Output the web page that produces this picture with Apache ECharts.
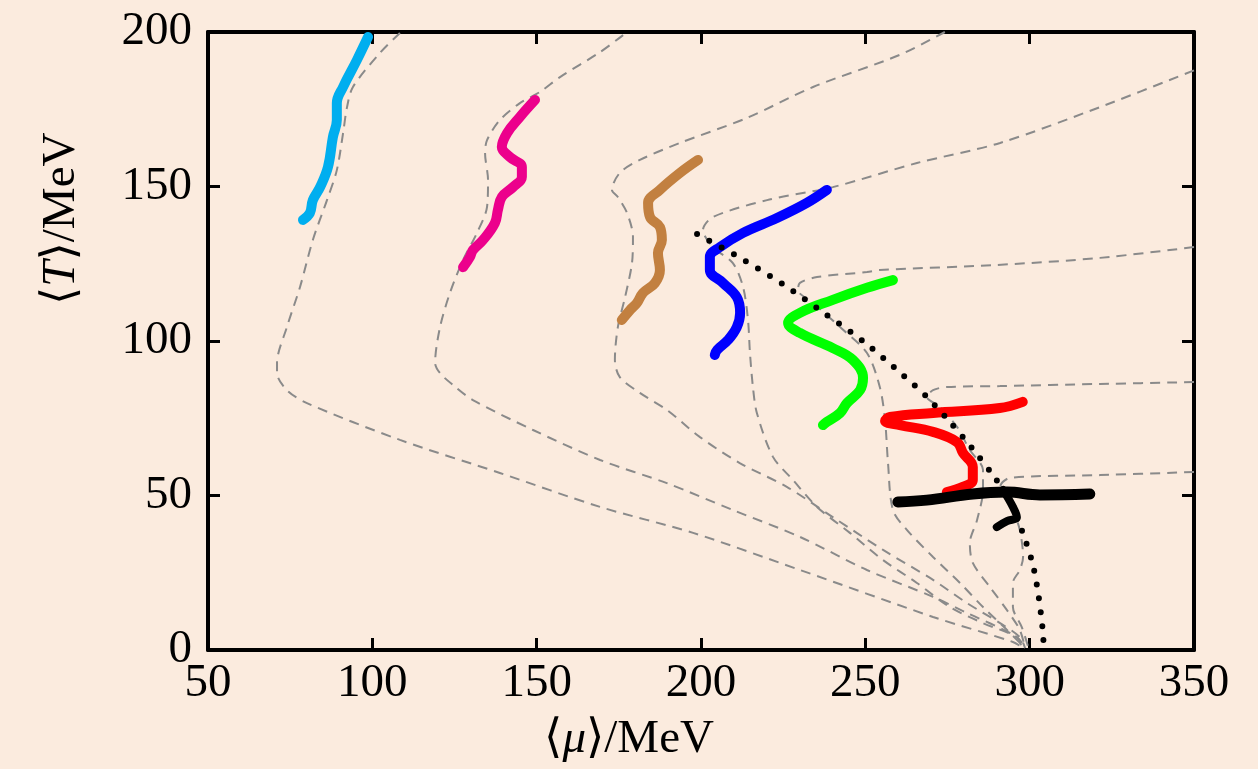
<!DOCTYPE html>
<html>
<head>
<meta charset="utf-8">
<script src="https://cdn.jsdelivr.net/npm/echarts@6/dist/echarts.min.js"></script>
<style>
  html, body { margin: 0; padding: 0; background: #fbebde; }
  #chart { width: 1258px; height: 769px; }
</style>
</head>
<body>
<div id="chart"></div>
<script>
// ticks
var xTicks = [50, 100, 150, 200, 250, 300, 350];
var yTicks = [0, 50, 100, 150, 200];

// gray dashed trajectories  [mu, T]
var dash1 = [[108.4,199.7],[102.3,193.2],[94.1,182.2],[92.3,175.7],[91.1,167.3],[89.2,155.3],[86.2,145.6],[81.9,132.7],[78.0,117.5],[74.0,104.5],[71.0,92.9],[71.0,89.6],[74.0,84.1],[80.1,79.9],[108.4,68.0],[138.8,57.3],[169.3,46.3],[197.6,37.9],[230.1,25.9],[270.6,10.7],[294.9,2.6],[298.2,0.5]];
var dash2 = [[176.3,199.0],[169.3,193.5],[157.1,185.4],[151.0,180.6],[144.9,177.0],[138.8,171.5],[134.9,165.0],[134.3,160.8],[135.2,152.1],[134.9,143.4],[131.8,134.9],[127.6,126.2],[123.6,115.5],[120.6,104.5],[119.1,92.9],[120.6,89.6],[124.5,85.8],[130.6,80.9],[148.9,71.2],[169.3,61.5],[189.6,54.0],[209.7,45.3],[230.1,36.6],[250.5,25.9],[270.6,17.2],[280.9,12.0],[296.1,4.2],[297.6,0.6]];
var dash3 = [[274.2,200],[260.5,192.6],[234.1,182.2],[214.0,172.2],[193.6,164.1],[181.4,158.6],[175.3,154.4],[172.9,148.9],[174.7,146.6],[177.5,141.4],[179.3,133.7],[179.0,125.2],[176.9,114.2],[174.7,104.5],[173.8,93.9],[175.3,88.3],[181.4,83.2],[189.6,77.7],[199.7,68.9],[211.8,60.5],[226.1,52.8],[240.1,43.0],[255.4,32.4],[270.6,22.7],[280.9,15.2],[291.0,8.7],[297.0,4.2],[298.6,0.6]];
var dash4 = [[350,187.6],[321.4,175.7],[291.0,164.1],[265.7,157.6],[240.1,149.8],[220.1,145.6],[203.6,140.1],[200.6,135.9],[203.6,130.4],[209.7,125.2],[212.8,117.5],[214.3,106.8],[214.9,96.1],[215.8,85.1],[217.0,76.7],[221.9,62.5],[228.0,55.0],[235.3,46.3],[245.3,37.9],[255.4,29.1],[265.7,21.7],[275.7,13.9],[285.8,8.7],[296.1,4.2],[298.6,0.6]];
var dash5 = [[350,130.4],[321.4,126.9],[290.0,124.6],[254.4,123.0],[250.5,122.3],[235.3,120.7],[230.1,118.8],[229.5,116.5],[234.1,112.3],[242.3,104.5],[250.5,96.1],[254.4,85.1],[256.0,74.4],[256.9,60.5],[258.4,45.3],[262.7,38.8],[270.6,30.1],[278.8,21.7],[285.8,13.9],[293.1,6.5],[298.6,0.6]];
var dash6 = [[350,86.7],[321.4,86.1],[291.0,85.4],[274.8,85.1],[270.6,84.1],[268.7,81.9],[272.7,78.6],[277.9,72.2],[281.8,64.7],[285.8,58.3],[285.8,51.8],[284.0,42.1],[281.8,34.6],[282.7,28.2],[287.9,20.4],[293.1,12.9],[297.0,6.5],[298.6,0.6]];
var dash7 = [[350,57.6],[321.4,56.6],[294.0,55.7],[291.0,52.8],[291.9,50.8],[294.9,45.3],[297.0,38.8],[298.0,30.1],[297.0,25.9],[294.9,21.7],[294.9,13.9],[297.6,7.4],[299.5,1.2]];

// black dotted boundary
var boundary = [[198.8,134.6],[211.9,126.9],[224.9,118.4],[237.4,109.1],[249.6,99.7],[261.4,89.0],[268.7,81.9],[275.7,73.8],[282.4,65.4],[288.5,57.0],[294.0,48.5],[297.9,37.9],[301.0,27.5],[302.8,16.8],[304.0,6.1],[304.3,0.3]];

// coloured curves
var cyanLine = [[98.7,198.4],[95.3,190.9],[91.1,182.2],[89.2,177.0],[89.2,171.5],[88.0,166.0],[86.5,156.3],[84.1,149.8],[81.9,145.6],[81.0,141.4],[78.9,139.2]];
var magentaLine = [[149.5,178.0],[144.9,172.5],[141.0,167.3],[139.4,162.8],[141.9,159.5],[145.5,156.3],[145.5,153.1],[142.8,149.8],[139.4,146.6],[138.2,142.4],[137.3,138.2],[133.7,132.7],[130.6,129.4],[129.7,127.2],[127.6,123.9]];
var brownLine = [[199.1,158.6],[193.6,154.4],[187.5,148.9],[183.9,144.7],[184.5,140.1],[187.5,136.9],[188.1,132.7],[186.9,128.5],[187.5,123.0],[186.0,118.8],[182.3,115.5],[180.5,112.3],[178.4,110.0],[175.9,106.8]];
var blueLine = [[238.3,148.9],[232.2,144.7],[223.1,139.8],[212.8,135.0],[205.8,130.4],[202.7,127.2],[202.7,123.0],[206.7,118.8],[210.9,114.2],[211.9,109.1],[210.9,104.5],[208.2,100.3],[204.9,97.1],[204.2,95.5]];
var greenLine = [[258.4,119.7],[250.5,117.2],[240.1,113.3],[230.1,109.1],[226.5,105.8],[230.1,102.6],[240.1,97.7],[246.2,93.9],[249.3,88.0],[248.4,84.1],[244.4,79.9],[242.3,76.7],[238.3,73.8],[237.1,72.8]];
var redLine = [[297.9,80.3],[290.9,78.3],[270.6,76.7],[257.5,75.4],[256.0,74.1],[260.5,72.8],[270.6,70.6],[277.9,67.3],[279.7,63.8],[282.7,59.2],[282.7,55.0],[279.7,52.8],[274.8,51.1]];
var blackLine = [[259.9,47.9],[268.7,48.5],[282.7,50.5],[293.1,51.1],[303.1,50.2],[318.3,50.5]];
var blackHook = [[291.9,51.8],[294.9,46.3],[296.1,43.0],[293.1,41.7],[290.0,39.8]];

var serif = "'Liberation Serif', 'DejaVu Serif', serif";

function dashed(d) {
    return { type: 'line', data: d, symbol: 'none', smooth: 0.3, z: 1,
        lineStyle: { color: '#8a8a8a', width: 2, type: [10, 7] } };
}
function thick(d, c, w) {
    return { type: 'line', data: d, symbol: 'none', smooth: 0.4, z: 3,
        lineStyle: { color: c, width: w || 10, cap: 'round', join: 'round' } };
}

function axisX(pos, labels) {
    return {
        type: 'value', position: pos, min: 50, max: 350, interval: 50,
        axisLine: { show: true, onZero: false, lineStyle: { color: '#000', width: 4 } },
        axisTick: { show: true, inside: true, length: 12, lineStyle: { color: '#000', width: 3 } },
        axisLabel: { show: labels, color: '#000', fontSize: 47, fontFamily: serif, margin: 10 },
        splitLine: { show: false }
    };
}
function axisY(pos, labels) {
    return {
        type: 'value', position: pos, min: 0, max: 200, interval: 50,
        axisLine: { show: true, onZero: false, lineStyle: { color: '#000', width: 4 } },
        axisTick: { show: true, inside: true, length: 12, lineStyle: { color: '#000', width: 3 } },
        axisLabel: { show: labels, color: '#000', fontSize: 47, fontFamily: serif, margin: 16 },
        splitLine: { show: false }
    };
}

var myChart = echarts.init(document.getElementById('chart'));
var option = {
    backgroundColor: '#fbebde',
    animation: false,
    grid: { left: 208, right: 64, top: 32, bottom: 119 },
    xAxis: [axisX('bottom', true), axisX('top', false)],
    yAxis: [axisY('left', true), axisY('right', false)],
    graphic: [
        {
            type: 'text', left: 'center', top: 716,
            style: {
                text: '{n|⟨}{i|μ}{n|⟩/MeV}',
                rich: {
                    n: { fontSize: 47, fontFamily: serif, fill: '#000' },
                    i: { fontSize: 47, fontFamily: serif, fontStyle: 'italic', fill: '#000' }
                }
            }
        },
        {
            type: 'text', x: 38, y: 305, rotation: Math.PI / 2,
            style: {
                text: '{n|⟨}{i|T}{n|⟩/MeV}',
                rich: {
                    n: { fontSize: 47, fontFamily: serif, fill: '#000' },
                    i: { fontSize: 47, fontFamily: serif, fontStyle: 'italic', fill: '#000' }
                }
            }
        }
    ],
    series: [
        dashed(dash1), dashed(dash2), dashed(dash3), dashed(dash4),
        dashed(dash5), dashed(dash6), dashed(dash7),
        { type: 'line', data: boundary, symbol: 'none', smooth: 0.3, z: 4,
          lineStyle: { color: '#000', width: 6, type: [0, 14], cap: 'round' } },
        thick(cyanLine, '#00aeef'),
        thick(magentaLine, '#ec008c'),
        thick(brownLine, '#c28040'),
        thick(blueLine, '#0000ff'),
        thick(greenLine, '#00ff00'),
        thick(redLine, '#ff0000'),
        thick(blackLine, '#000000', 11),
        thick(blackHook, '#000000', 8)
    ]
};
myChart.setOption(option);
window.onresize = myChart.resize;
</script>
</body>
</html>
